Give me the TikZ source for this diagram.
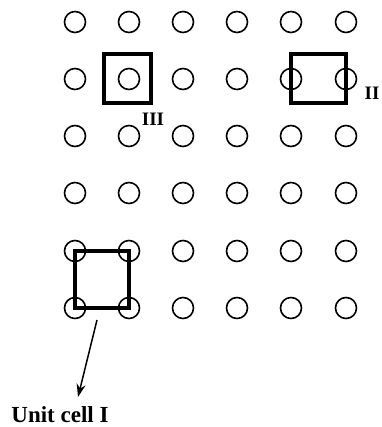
\documentclass[tikz,border=0pt]{standalone}
\usepackage{fontspec}
\setmainfont{Liberation Serif}
\usetikzlibrary{arrows.meta,calc}
\tikzset{
  atom/.style={circle,draw,line width=1.6pt,minimum size=21pt,inner sep=0pt},
  cellline/.style={line width=3.4pt,line join=miter},
  lbl/.style={font=\bfseries\fontsize{19}{19}\selectfont,inner sep=0pt},
  biglbl/.style={font=\bfseries\fontsize{23}{23}\selectfont,inner sep=0pt},
  pointer/.style={line width=1.5pt,-{Stealth[length=13pt,width=9pt]}}
}
\begin{document}
\begin{tikzpicture}[x=1pt,y=-1pt]
\useasboundingbox (0,0) rectangle (381,427);
\foreach \r/\yy in {1/22,2/79,3/136,4/193,5/251,6/308}{
  \foreach \c/\xx in {1/75,2/129,3/183,4/237,5/291,6/346}{
    \node[atom] (n-\r-\c) at (\xx,\yy) {};
  }
}
% Unit cell I
\draw[cellline] (n-5-1.center) rectangle (n-6-2.center);
% Cell III
\draw[cellline] ($(n-2-2.center)+(-25,-25)$) rectangle ($(n-2-2.center)+(22,24)$);
% Cell II
\draw[cellline] ($(n-2-5.center)+(0,-25)$) rectangle ($(n-2-6.center)+(0,24)$);
\node[lbl,anchor=north] (l3) at (153,113) {III};
\node[lbl,anchor=north] (l2) at (372,87) {II};
\node[biglbl] (l1) at (60,415) {Unit cell I};
\coordinate (astart) at (97,320);
\coordinate (aend) at (78,397);
\draw[pointer] (astart) -- (aend);
\end{tikzpicture}
\end{document}
